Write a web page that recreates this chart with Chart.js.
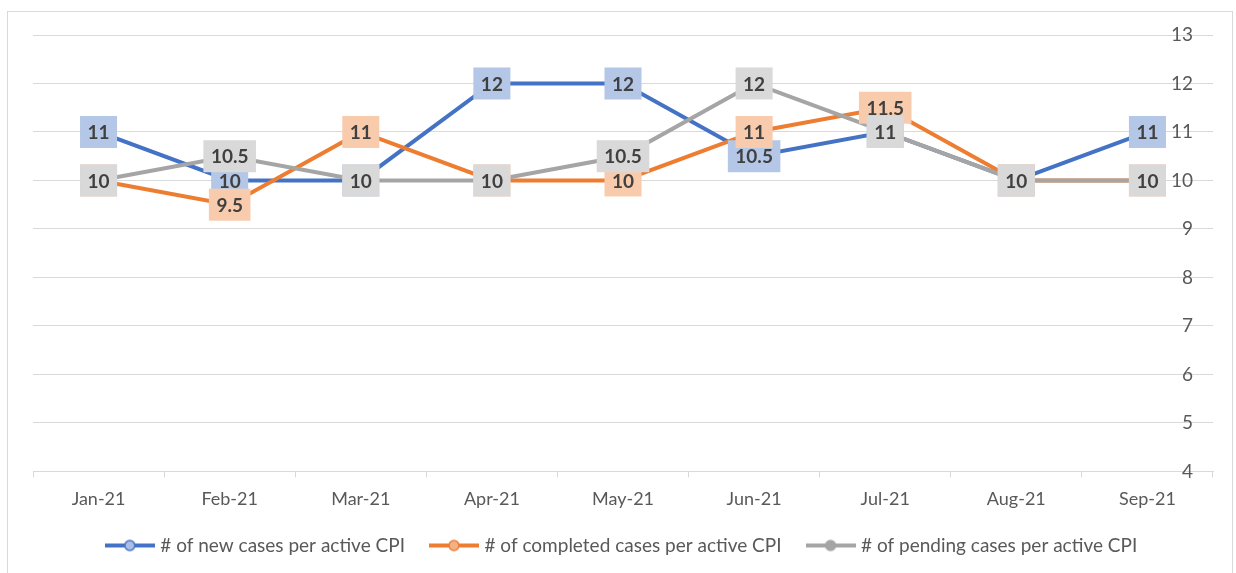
<!DOCTYPE html>
<html>
<head>
<meta charset="utf-8">
<script src="https://cdn.jsdelivr.net/npm/chart.js@4"></script>
<style>
  html, body { margin: 0; padding: 0; background: #fff; }
  #moldura { position: absolute; left: 7px; top: 11px; width: 1226px; height: 580px; border: 1px solid #d9d9d9; box-sizing: border-box; }
  #caixa { position: absolute; left: 0; top: 0; width: 1236px; height: 573px; }
</style>
</head>
<body>
<div id="moldura"></div>
<div id="caixa"><canvas id="grafico" width="1236" height="573"></canvas></div>
<script>
// --- dados ---
const meses = ['Jan-21', 'Feb-21', 'Mar-21', 'Apr-21', 'May-21', 'Jun-21', 'Jul-21', 'Aug-21', 'Sep-21'];
const novos = [11, 10, 10, 12, 12, 10.5, 11, 10, 11];
const concluidos = [10, 9.5, 11, 10, 10, 11, 11.5, 10, 10];
const pendentes = [10, 10.5, 10, 10, 10.5, 12, 11, 10, 10];

// simbolo da legenda: linha com bolinha no meio
function simbolo(cor, preenchimento) {
    const c = document.createElement('canvas');
    c.width = 50; c.height = 14;
    const g = c.getContext('2d');
    g.strokeStyle = cor; g.lineWidth = 4;
    g.beginPath(); g.moveTo(0, 7); g.lineTo(50, 7); g.stroke();
    g.fillStyle = preenchimento; g.lineWidth = 1.5;
    g.beginPath(); g.arc(25, 7, 5, 0, Math.PI * 2); g.fill(); g.stroke();
    return c;
}
const simbolos = [
    simbolo('#4472c4', '#a9bfe6'),
    simbolo('#ed7d31', '#f4b183'),
    simbolo('#a5a5a5', '#a5a5a5')
];

// números do eixo Y ficam dentro da área, por cima das linhas de grade
const rotulosY = {
    id: 'rotulosY',
    beforeDatasetsDraw(chart) {
        const ctx = chart.ctx;
        const y = chart.scales.y;
        ctx.save();
        ctx.font = '19px Lato';
        ctx.fillStyle = '#595959';
        ctx.textAlign = 'right';
        ctx.textBaseline = 'middle';
        y.ticks.forEach(t => {
            ctx.fillText(String(t.value), chart.chartArea.right - 20, y.getPixelForValue(t.value));
        });
        ctx.restore();
    }
};

// rótulos com caixinha colorida por cima das linhas (azul, laranja, cinza)
const etiquetas = {
    id: 'etiquetas',
    afterDatasetsDraw(chart) {
        const ctx = chart.ctx;
        ctx.save();
        ctx.font = 'bold 19px Lato';
        ctx.textAlign = 'center';
        ctx.textBaseline = 'middle';
        chart.data.datasets.forEach((ds, i) => {
            chart.getDatasetMeta(i).data.forEach((pt, j) => {
                const txt = String(ds.data[j]);
                const w = ctx.measureText(txt).width + 15;
                const h = 32;
                ctx.fillStyle = ds.caixa;
                ctx.fillRect(pt.x - w / 2, pt.y - h / 2, w, h);
                ctx.fillStyle = '#404040';
                ctx.fillText(txt, pt.x, pt.y + 1);
            });
        });
        ctx.restore();
    }
};

new Chart(document.getElementById('grafico'), {
    type: 'line',
    data: {
        labels: meses,
        datasets: [
            { label: '# of new cases per active CPI', data: novos, order: 3, borderColor: '#4472c4', backgroundColor: '#a9bfe6', caixa: '#b4c7e7', borderWidth: 4, pointRadius: 0, tension: 0 },
            { label: '# of completed cases per active CPI', data: concluidos, order: 2, borderColor: '#ed7d31', backgroundColor: '#f4b183', caixa: '#f8cbad', borderWidth: 4, pointRadius: 0, tension: 0 },
            { label: '# of pending cases per active CPI', data: pendentes, order: 1, borderColor: '#a5a5a5', backgroundColor: '#a5a5a5', caixa: '#d9d9d9', borderWidth: 4, pointRadius: 0, tension: 0 }
        ]
    },
    options: {
        responsive: false,
        animation: false,
        layout: { padding: { left: 33, right: 23, top: 35, bottom: 8 } },
        scales: {
            x: {
                offset: true,
                afterFit: s => { s.height -= 13; },
                grid: { offset: true, drawOnChartArea: false, drawTicks: true, tickLength: 6, color: '#d9d9d9' },
                border: { display: true, color: '#d9d9d9' },
                ticks: { color: '#595959', font: { family: 'Lato', size: 18 }, padding: 11, maxRotation: 0 }
            },
            y: {
                position: 'right',
                min: 4,
                max: 13,
                afterFit: s => { s.width = 0; },
                grid: { color: '#d9d9d9', drawTicks: false },
                border: { display: false },
                ticks: { stepSize: 1, display: false }
            }
        },
        plugins: {
            tooltip: { enabled: false },
            legend: {
                position: 'bottom',
                labels: {
                    usePointStyle: true,
                    pointStyleWidth: 42,
                    padding: 28,
                    color: '#595959',
                    font: { family: 'Lato', size: 19 },
                    sort: (a, b) => a.datasetIndex - b.datasetIndex,
                    generateLabels(chart) {
                        const itens = Chart.defaults.plugins.legend.labels.generateLabels(chart);
                        itens.forEach(it => { it.pointStyle = simbolos[it.datasetIndex]; });
                        return itens;
                    }
                }
            }
        }
    },
    plugins: [rotulosY, etiquetas]
});
</script>
</body>
</html>
